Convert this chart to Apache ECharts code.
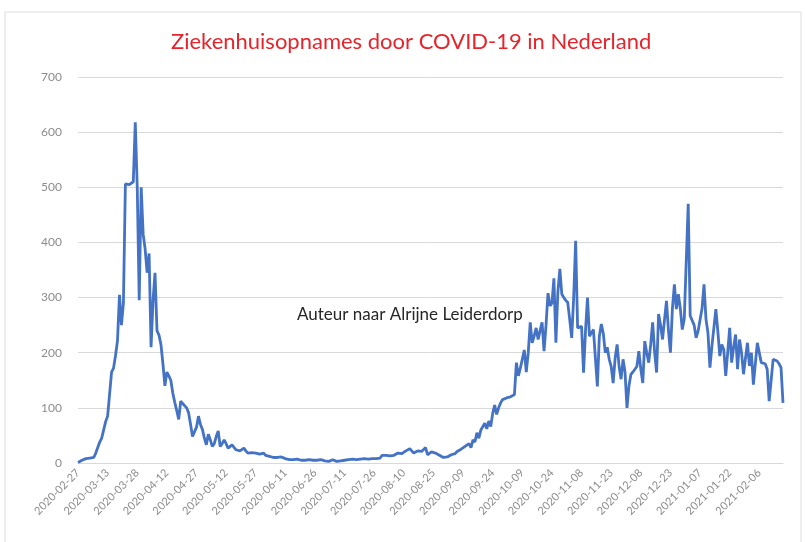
<!DOCTYPE html>
<html>
<head>
<meta charset="utf-8">
<script src="https://cdn.jsdelivr.net/npm/echarts@6/dist/echarts.min.js"></script>
<style>
html,body{margin:0;padding:0;background:#fff;}
#chart{width:805px;height:542px;}
</style>
</head>
<body>
<div id="chart"></div>
<script>
// Daily hospital admissions, starting 2020-02-27 (one value per day)
const startDate = '2020-02-27';
const admissions = [
  1,3,5,7,8,10,9,12,10,18,
  28,38,45,60,75,85,82,165,172,195,
  222,305,250,290,506,503,505,508,510,618,
  500,295,500,415,388,345,380,210,295,345,
  240,232,215,180,140,165,158,150,127,110,
  95,79,112,108,109,100,91,70,48,45,
  65,85,70,61,45,33,52,42,30,35,
  48,58,30,35,42,35,27,30,33,30,
  24,26,22,25,27,22,18,20,19,21,
  18,15,16,18,18,14,15,12,13,10,
  9,10,8,11,11,8,7,6,7,6,
  7,7,6,5,6,5,4,6,4,5,
  3,5,4,6,3,4,5,3,4,6,
  4,3,5,4,6,5,4,6,5,7,
  5,6,5,7,6,8,6,7,9,8,
  10,8,10,9,14,17,14,12,13,15,
  14,17,18,20,17,19,22,25,26,22,
  18,20,22,19,21,24,28,15,18,20,
  17,18,16,14,13,10,9,11,13,15,
  18,17,21,20,25,22,30,30,35,28,
  42,38,55,45,60,58,72,62,76,66,
  90,105,88,100,109,115,112,118,116,120,
  119,124,182,158,172,172,205,165,200,255,
  218,230,245,224,240,255,203,250,308,285,
  290,335,218,310,352,306,300,295,291,260,
  227,300,403,245,248,248,164,240,300,230,
  236,242,240,139,230,252,235,200,210,188,
  175,145,190,215,175,152,188,165,100,140,
  161,165,170,175,203,170,145,221,200,182,
  215,255,200,164,270,250,224,260,294,240,
  200,280,324,279,306,280,242,261,262,470,
  267,264,250,227,239,236,280,324,261,236,
  173,212,245,279,239,194,215,206,158,200,
  245,182,210,233,170,224,200,161,190,218,
  176,200,142,180,218,200,182,185,180,170,
  112,150,188,187,185,180,173,109
];
const yTicks = [0,100,200,300,400,500,600,700];
const titleText = 'Ziekenhuisopnames door COVID-19 in Nederland';
const noteText = 'Auteur naar Alrijne Leiderdorp';

// category labels: one date per value
const dates = [];
(function(){
  const d = new Date(startDate + 'T12:00:00Z');
  for (let i = 0; i < admissions.length; i++) {
    dates.push(d.toISOString().slice(0,10));
    d.setUTCDate(d.getUTCDate() + 1);
  }
})();

const chart = echarts.init(document.getElementById('chart'), null, {renderer:'canvas'});
chart.setOption({
  animation: false,
  backgroundColor: '#ffffff',
  title: {
    text: titleText,
    left: 171,
    top: 31,
    padding: 0,
    textStyle: {color:'#e5242b', fontFamily:'Lato', fontWeight:'normal', fontSize:22}
  },
  grid: {left:78, right:22, top:77, bottom:79, containLabel:false},
  xAxis: {
    type:'category',
    data: dates,
    boundaryGap:false,
    axisLine:{lineStyle:{color:'#d9d9d9', width:1}},
    axisTick:{show:false},
    axisLabel:{interval:14, rotate:45, color:'#8c8c8c', fontSize:11, fontFamily:'Lato', margin:8}
  },
  yAxis: {
    type:'value',
    min: yTicks[0],
    max: yTicks[yTicks.length-1],
    interval: 100,
    axisLine:{show:false},
    axisTick:{show:false},
    splitLine:{lineStyle:{color:'#d9d9d9', width:1}},
    axisLabel:{color:'#8c8c8c', fontSize:12, fontFamily:'Lato', margin:16}
  },
  series: [{
    type:'line',
    data: admissions,
    showSymbol:false,
    symbol:'none',
    lineStyle:{color:'#4472c4', width:2.8},
    itemStyle:{color:'#4472c4'}
  }],
  graphic: [
    {type:'rect', shape:{x:5, y:12, width:796, height:540}, style:{fill:'none', stroke:'#dcdcdc', lineWidth:1}, silent:true},
    {type:'text', left:297, top:306, style:{text:noteText, fill:'#262626', fontSize:17, fontFamily:'Lato'}}
  ]
});
</script>
</body>
</html>
